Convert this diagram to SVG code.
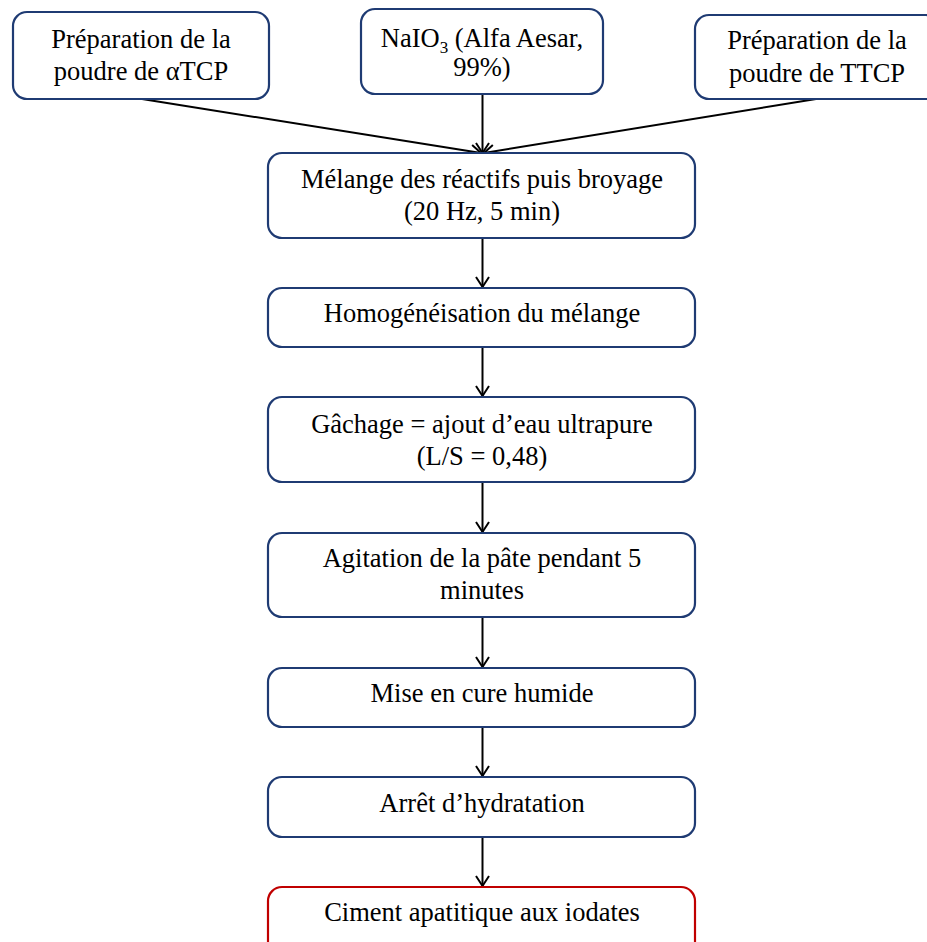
<svg xmlns="http://www.w3.org/2000/svg" width="927" height="942" viewBox="0 0 927 942">
<style>
.box{fill:#fff;stroke:#1f3b73;stroke-width:2.2}
.red{fill:#fff;stroke:#c00000;stroke-width:2.2}
text{font-family:"Liberation Serif","Times New Roman",serif;font-size:26.5px;fill:#000;text-anchor:middle}
.con{stroke:#000;stroke-width:2;fill:none;marker-end:url(#arr)}
</style>
<defs>
<marker id="arr" markerUnits="userSpaceOnUse" markerWidth="20" markerHeight="20" viewBox="-12 -10 14 20" refX="0" refY="0" orient="auto">
<path d="M-10,-6.5 L0,0 L-10,6.5" fill="none" stroke="#000" stroke-width="2"/>
</marker>
</defs>
<rect width="927" height="942" fill="#fff"/>
<g id="connectors">
<line class="con" x1="142" y1="99" x2="481" y2="153"/>
<line class="con" x1="482.5" y1="94" x2="482.5" y2="153"/>
<line class="con" x1="816" y1="99" x2="484" y2="153"/>
<line class="con" x1="482.5" y1="238" x2="482.5" y2="287"/>
<line class="con" x1="482.5" y1="347" x2="482.5" y2="396"/>
<line class="con" x1="482.5" y1="482" x2="482.5" y2="532"/>
<line class="con" x1="482.5" y1="617" x2="482.5" y2="667"/>
<line class="con" x1="482.5" y1="727" x2="482.5" y2="776"/>
<line class="con" x1="482.5" y1="837" x2="482.5" y2="886"/>
</g>
<g id="n1">
<rect class="box" x="13" y="12" width="256" height="87" rx="14"/>
<text x="141" y="48">Préparation de la</text>
<text x="141" y="80">poudre de αTCP</text>
</g>
<g id="n2">
<rect class="box" x="361" y="9" width="242" height="85" rx="14"/>
<text x="482" y="47">NaIO<tspan font-size="17" dy="6">3</tspan><tspan dy="-6"> (Alfa Aesar,</tspan></text>
<text x="482" y="76">99%)</text>
</g>
<g id="n3">
<rect class="box" x="695" y="15" width="245" height="84" rx="14"/>
<text x="817" y="49">Préparation de la</text>
<text x="817" y="82">poudre de TTCP</text>
</g>
<g id="n4">
<rect class="box" x="268" y="153" width="427" height="85" rx="14"/>
<text x="482" y="188">Mélange des réactifs puis broyage</text>
<text x="482" y="220">(20 Hz, 5 min)</text>
</g>
<g id="n5">
<rect class="box" x="268" y="288" width="427" height="59" rx="14"/>
<text x="482" y="322">Homogénéisation du mélange</text>
</g>
<g id="n6">
<rect class="box" x="268" y="397" width="427" height="85" rx="14"/>
<text x="482" y="433">Gâchage = ajout d’eau ultrapure</text>
<text x="482" y="465">(L/S = 0,48)</text>
</g>
<g id="n7">
<rect class="box" x="268" y="533" width="427" height="84" rx="14"/>
<text x="482" y="567">Agitation de la pâte pendant 5</text>
<text x="482" y="599">minutes</text>
</g>
<g id="n8">
<rect class="box" x="268" y="668" width="427" height="59" rx="14"/>
<text x="482" y="702">Mise en cure humide</text>
</g>
<g id="n9">
<rect class="box" x="268" y="777" width="427" height="60" rx="14"/>
<text x="482" y="812">Arrêt d’hydratation</text>
</g>
<g id="n10">
<rect class="red" x="268" y="887" width="427" height="70" rx="14"/>
<text x="482" y="921">Ciment apatitique aux iodates</text>
</g>
</svg>
